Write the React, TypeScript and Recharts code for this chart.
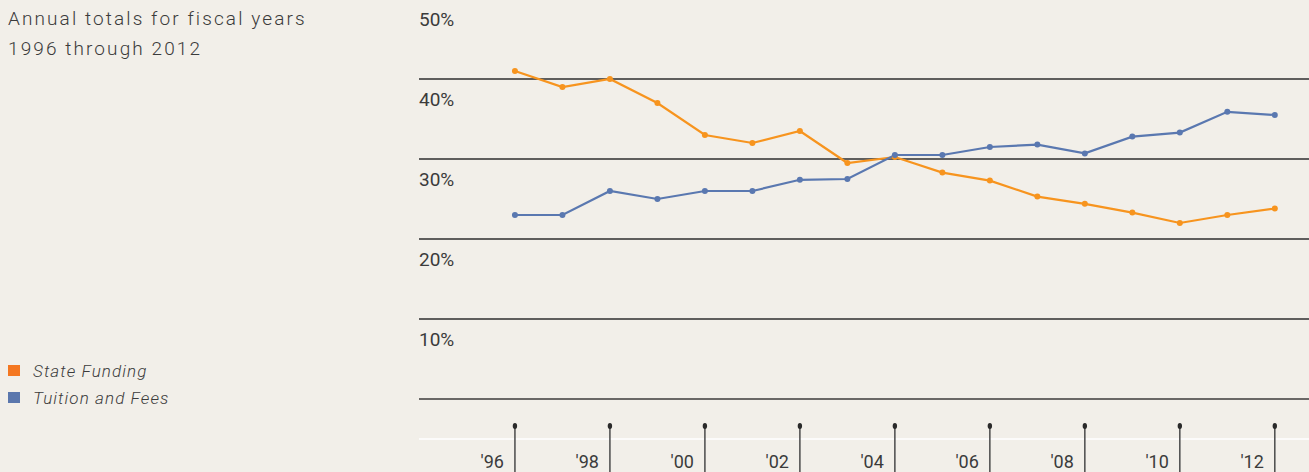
import { LineChart, Line, XAxis, YAxis, ReferenceLine } from 'recharts'

const YEARS = [1996, 1997, 1998, 1999, 2000, 2001, 2002, 2003, 2004, 2005, 2006, 2007, 2008, 2009, 2010, 2011, 2012]
const STATE_FUNDING = [41.0, 39.0, 40.0, 37.0, 33.0, 32.0, 33.5, 29.5, 30.25, 28.3, 27.3, 25.3, 24.4, 23.3, 22.0, 23.0, 23.8]
const TUITION_FEES = [23.0, 23.0, 26.0, 25.0, 26.0, 26.0, 27.4, 27.5, 30.5, 30.5, 31.5, 31.8, 30.7, 32.8, 33.3, 35.9, 35.5]
const X_TICKS = [1996, 1998, 2000, 2002, 2004, 2006, 2008, 2010, 2012]
const Y_TICKS = [10, 20, 30, 40, 50]
const GRID_LINES = [40, 30, 20, 10]

const BG = '#f2efe9'
const TEXT = '#3b3b3b'
const ORANGE = '#f7941e'
const BLUE = '#5a78b0'
const LEGEND_ORANGE = '#f47721'
const LEGEND_BLUE = '#5b77ad'
const FONT = 'Roboto, "Liberation Sans", sans-serif'

const data = YEARS.map((year, i) => ({
  year,
  state: STATE_FUNDING[i],
  tuition: TUITION_FEES[i],
}))

const legendItems = [
  { label: 'State Funding', color: LEGEND_ORANGE },
  { label: 'Tuition and Fees', color: LEGEND_BLUE },
]

function YTick({ x, y, payload }: any) {
  return (
    <text x={x} y={y + 27} fill={TEXT} fontSize={19} fontFamily={FONT} textAnchor="start">
      {payload.value}%
    </text>
  )
}

function XTick({ x, y, payload }: any) {
  const label = "'" + String(payload.value).slice(2)
  return (
    <g>
      <line x1={x} x2={x} y1={y - 13} y2={y + 34} stroke="#4a4a4a" strokeWidth={1.5} />
      <ellipse cx={x} cy={y - 13} rx={2.2} ry={3} fill="#2a2a2a" />
      <text x={x - 11} y={y + 29} fill={TEXT} fontSize={18} fontFamily={FONT} textAnchor="end">
        {label}
      </text>
    </g>
  )
}

export default function App() {
  return (
    <div style={{ position: 'absolute', left: 0, top: 0, width: 1309, height: 472, background: BG, overflow: 'hidden' }}>
      <div
        style={{
          position: 'absolute',
          left: 8,
          top: 4,
          fontFamily: FONT,
          fontSize: 19,
          fontWeight: 300,
          lineHeight: '30px',
          letterSpacing: 2.1,
          color: TEXT,
        }}
      >
        Annual totals for fiscal years
        <br />
        1996 through 2012
      </div>
      <div style={{ position: 'absolute', left: 8, top: 357, fontFamily: FONT }}>
        {legendItems.map((item) => (
          <div key={item.label} style={{ display: 'flex', alignItems: 'center', height: 27 }}>
            <span style={{ width: 12, height: 11, background: item.color, display: 'inline-block', marginRight: 13 }} />
            <span style={{ fontSize: 17, fontStyle: 'italic', fontWeight: 300, letterSpacing: 1.1, color: TEXT }}>
              {item.label}
            </span>
          </div>
        ))}
      </div>
      <div style={{ position: 'absolute', left: 0, top: -1 }}>
        <LineChart width={1309} height={473} data={data} margin={{ top: 0, right: 0, bottom: 0, left: 379 }}>
          <XAxis
            dataKey="year"
            type="number"
            domain={[1993.98, 2012.72]}
            ticks={X_TICKS}
            height={33}
            axisLine={false}
            tickLine={false}
            tickSize={0}
            tickMargin={0}
            tick={<XTick />}
            interval={0}
          />
          <YAxis
            type="number"
            domain={[-5, 50]}
            ticks={Y_TICKS}
            width={40}
            axisLine={false}
            tickLine={false}
            tickSize={0}
            tickMargin={0}
            tick={<YTick />}
            interval={0}
          />
          {GRID_LINES.map((v) => (
            <ReferenceLine key={v} y={v} stroke="#2e2e2e" strokeWidth={1.4} />
          ))}
          <ReferenceLine y={0} stroke="#6a6866" strokeWidth={2} />
          <ReferenceLine y={-5} stroke="#ffffff" strokeWidth={1.5} />
          <Line
            dataKey="state"
            stroke={ORANGE}
            strokeWidth={2.2}
            dot={{ r: 3, fill: ORANGE, stroke: 'none' }}
            isAnimationActive={false}
          />
          <Line
            dataKey="tuition"
            stroke={BLUE}
            strokeWidth={2.2}
            dot={{ r: 3, fill: BLUE, stroke: 'none' }}
            isAnimationActive={false}
          />
        </LineChart>
      </div>
    </div>
  )
}
